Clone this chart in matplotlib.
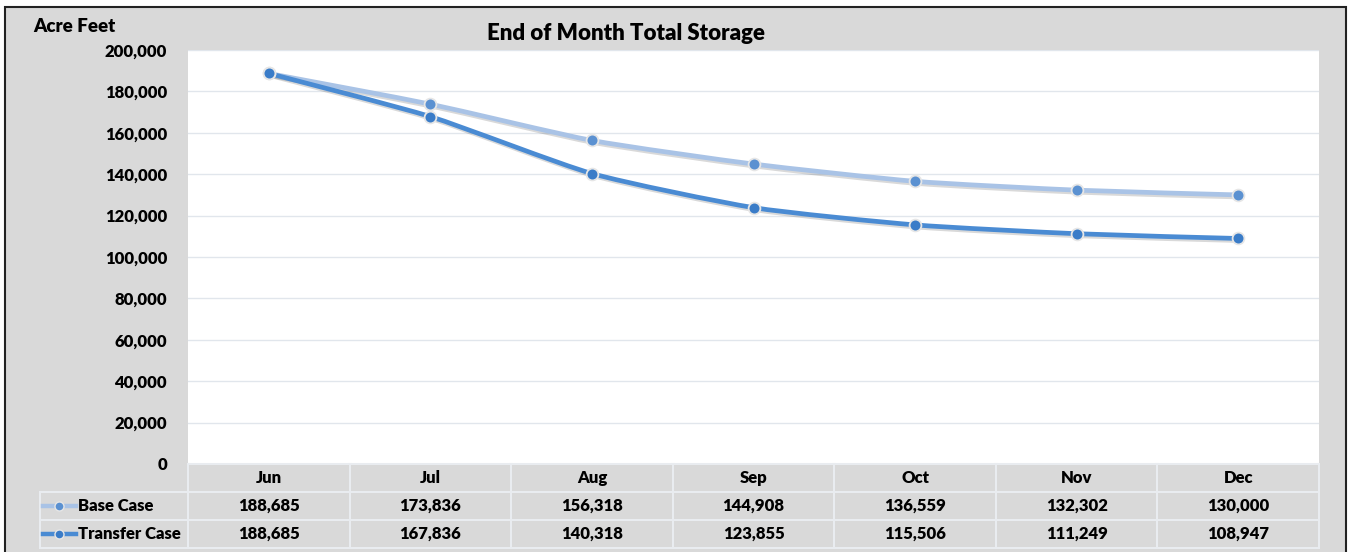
import numpy as np
import matplotlib.pyplot as plt
from matplotlib.path import Path
from matplotlib.patches import PathPatch, Rectangle
import matplotlib.patheffects as pe

plt.rcParams['font.family'] = ['Lato', 'DejaVu Sans']
plt.rcParams['font.weight'] = 'heavy'

months = ["Jun", "Jul", "Aug", "Sep", "Oct", "Nov", "Dec"]
base_case = [188685, 173836, 156318, 144908, 136559, 132302, 130000]
transfer_case = [188685, 167836, 140318, 123855, 115506, 111249, 108947]
series_names = ["Base Case", "Transfer Case"]

W, H = 1349, 552
BG = "#d9d9d9"
GRID = "#e1e6ec"
CELL = "#e9ecf0"
line_colors = ["#a9c3e6", "#4a8bd3"]
marker_colors = ["#5b91d1", "#3a7cc8"]
FS = 12
WT = "heavy"

fig = plt.figure(figsize=(W / 100, H / 100), dpi=100)
fig.patch.set_facecolor("white")
fig.patches.append(Rectangle((5 / W, -0.05), 1341 / W, 1.05 - 7 / H, transform=fig.transFigure,
                             facecolor=BG, edgecolor="#222222", linewidth=1.5, zorder=-5))

L, R, T, B = 188, 1319, 50, 464
ax = fig.add_axes([L / W, 1 - B / H, (R - L) / W, (B - T) / H])
ax.set_facecolor("white")
ax.set_xlim(-0.5, len(months) - 0.5)
ax.set_ylim(0, 200000)
ax.set_yticks(np.arange(0, 200001, 20000))
ax.set_yticklabels([f"{v:,}" for v in range(0, 200001, 20000)], fontsize=FS, fontweight=WT)
ax.tick_params(axis="y", length=0, pad=15)
ax.set_xticks([])
ax.grid(axis="y", color=GRID, linewidth=1)
ax.set_axisbelow(True)
for s in ax.spines.values():
    s.set_visible(False)


def smooth_path(xs, ys, k=10.0):
    # excel-style smoothed line: cubic bezier through the points
    pts = np.column_stack([xs, ys]).astype(float)
    verts = [pts[0]]
    codes = [Path.MOVETO]
    n = len(pts)
    for i in range(n - 1):
        p0 = pts[max(i - 1, 0)]
        p1 = pts[i]
        p2 = pts[i + 1]
        p3 = pts[min(i + 2, n - 1)]
        verts += [p1 + (p2 - p0) / k, p2 - (p3 - p1) / k, p2]
        codes += [Path.CURVE4] * 3
    return Path(verts, codes)


x = np.arange(len(months))
for vals, lc, mc in zip([base_case, transfer_case], line_colors, marker_colors):
    patch = PathPatch(smooth_path(x, vals), facecolor="none", edgecolor=lc, linewidth=3.4,
                      capstyle="round", joinstyle="round", zorder=3,
                      path_effects=[pe.SimpleLineShadow(offset=(1, -1.5), alpha=0.15), pe.Normal()])
    ax.add_patch(patch)
    ax.plot(x, vals, linestyle="none", marker="o", markersize=8.5, markerfacecolor=mc,
            markeredgecolor="#e6e6e6", markeredgewidth=1.3, zorder=4)

fig.text(626 / W, 1 - 33 / H, "End of Month Total Storage", fontsize=16, fontweight=WT,
         ha="center", va="center")
fig.text(33 / W, 1 - 27 / H, "Acre Feet", fontsize=13.5, fontweight=WT, ha="left", va="center")

# data table under the plot
tb = fig.add_axes([L / W, 1 - 548 / H, (R - L) / W, 84 / H])
tb.set_xlim(-0.5, len(months) - 0.5)
tb.set_ylim(3, 0)
tb.axis("off")
colw = (R - L) / len(months)


def px2x(px):
    return -0.5 + (px - L) / colw


left = px2x(40)
kw = dict(color=CELL, linewidth=1.5, clip_on=False)
for r in [0, 1, 2, 3]:
    tb.plot([left if r > 0 else -0.5, len(months) - 0.5], [r, r], **kw)
for c in range(len(months) + 1):
    tb.plot([c - 0.5, c - 0.5], [0, 3], **kw)
tb.plot([left, left], [1, 3], **kw)

for i, m in enumerate(months):
    tb.text(i, 0.5, m, ha="center", va="center", fontsize=FS, fontweight=WT)
for r, (name, vals, lc, mc) in enumerate(zip(series_names, [base_case, transfer_case], line_colors, marker_colors)):
    yy = r + 1.5
    tb.plot([px2x(43), px2x(76)], [yy, yy], color=lc, linewidth=3.2, clip_on=False)
    tb.plot([px2x(59)], [yy], marker="o", markersize=6.5, markerfacecolor=mc,
            markeredgecolor="#e6e6e6", markeredgewidth=1, clip_on=False)
    tb.text(px2x(78), yy, name, ha="left", va="center", fontsize=FS, fontweight=WT)
    for i, v in enumerate(vals):
        tb.text(i, yy, f"{v:,}", ha="center", va="center", fontsize=FS, fontweight=WT)

fig.savefig("out.png", dpi=100, facecolor=fig.get_facecolor())
